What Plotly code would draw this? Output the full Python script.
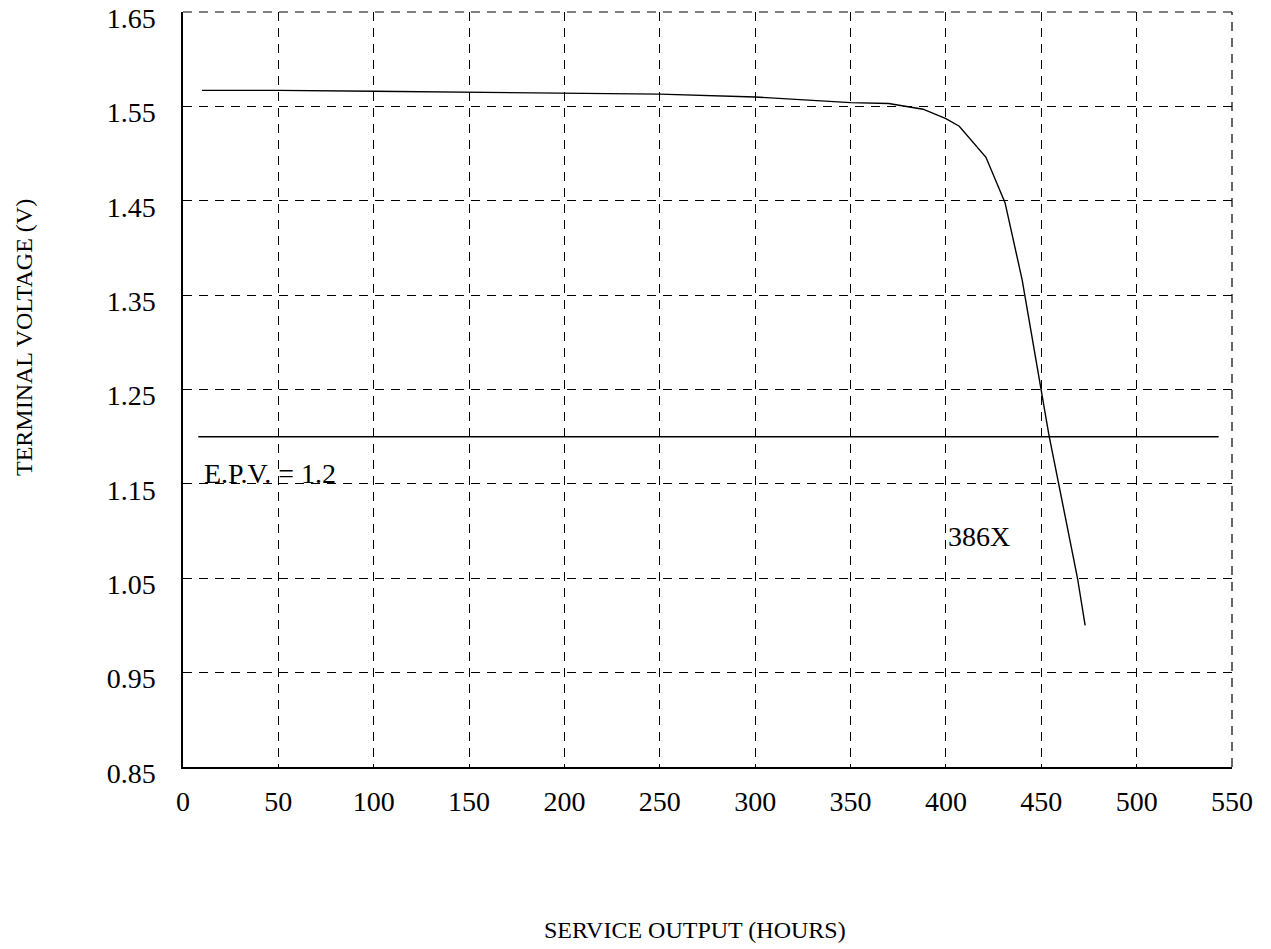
import plotly.graph_objects as go

# Discharge curve (386X)
hours = [10, 50, 100, 150, 200, 250, 300, 350, 370, 388, 400, 407, 421, 431, 440, 454, 469, 473]
volts = [1.567, 1.567, 1.566, 1.565, 1.564, 1.563, 1.560, 1.554, 1.553, 1.547, 1.537, 1.529, 1.496, 1.448, 1.366, 1.202, 1.05, 1.00]

epv_hours = [8, 543]
epv_volts = [1.2, 1.2]

x_ticks = [0, 50, 100, 150, 200, 250, 300, 350, 400, 450, 500, 550]
y_ticks = [0.85, 0.95, 1.05, 1.15, 1.25, 1.35, 1.45, 1.55, 1.65]

FONT = "Liberation Serif, Times New Roman, serif"
DASH = "9px,7px"

# body margin is removed by the post script, so page pixels == figure pixels
W, H = 1271, 949
L, T = 183, 12
pw, ph = 1232 - 183, 767 - 12
R, B = W - L - pw, H - T - ph

fig = go.Figure()
fig.add_trace(go.Scatter(x=hours, y=volts, mode="lines",
                         line=dict(color="black", width=1.4), showlegend=False, hoverinfo="skip"))
fig.add_trace(go.Scatter(x=epv_hours, y=epv_volts, mode="lines",
                         line=dict(color="black", width=1.4), showlegend=False, hoverinfo="skip"))

fig.add_annotation(x=10, y=1.161, xref="x", yref="y", text="E.P.V. = 1.2", showarrow=False,
                   xanchor="left", yanchor="middle", font=dict(family=FONT, size=28, color="black"))
fig.add_annotation(x=400, y=1.094, xref="x", yref="y", text="386X", showarrow=False,
                   xanchor="left", yanchor="middle", font=dict(family=FONT, size=28, color="black"))

# axis titles, positioned by page pixels (converted to paper coordinates)
def px_to_paper(xp, yp):
    return (xp - L) / pw, (T + ph - yp) / ph

xt = px_to_paper(695, 930)
yt = px_to_paper(24, 338)
fig.add_annotation(x=xt[0], y=xt[1], xref="paper", yref="paper", text="SERVICE OUTPUT (HOURS)",
                   showarrow=False, xanchor="center", yanchor="middle",
                   font=dict(family=FONT, size=24, color="black"))
fig.add_annotation(x=yt[0], y=yt[1], xref="paper", yref="paper", text="TERMINAL VOLTAGE (V)",
                   showarrow=False, textangle=-90, xanchor="center", yanchor="middle",
                   font=dict(family=FONT, size=24, color="black"))

grid = dict(showgrid=True, gridcolor="black", gridwidth=1.2, griddash=DASH)

fig.update_xaxes(range=[0, 550], tickvals=x_ticks, ticktext=[str(v) for v in x_ticks],
                 showline=True, linecolor="black", linewidth=1.5, ticks="", zeroline=False,
                 automargin=False, ticklabeloverflow="allow",
                 tickfont=dict(family=FONT, size=28, color="black"), ticklabelstandoff=9, **grid)
fig.update_yaxes(range=[0.85, 1.65], tickvals=y_ticks, ticktext=[f"{v:.2f}" for v in y_ticks],
                 showline=True, linecolor="black", linewidth=1.5, ticks="", zeroline=False,
                 automargin=False, ticklabeloverflow="allow", ticklabelshift=6,
                 tickfont=dict(family=FONT, size=28, color="black"), ticklabelstandoff=20, **grid)

# dashed frame on top and right edges (grid lines at the range ends)
fig.add_shape(type="line", xref="paper", yref="paper", x0=0, x1=1, y0=1, y1=1,
              line=dict(color="black", width=1.2, dash=DASH))
fig.add_shape(type="line", xref="paper", yref="paper", x0=1, x1=1, y0=0, y1=1,
              line=dict(color="black", width=1.2, dash=DASH))

fig.update_layout(width=W, height=H, plot_bgcolor="white", paper_bgcolor="white",
                  margin=dict(l=L, r=R, t=T, b=B, pad=0), showlegend=False)

fig.write_html("out.html", config={"displayModeBar": False},
               post_script="document.body.style.margin='0';document.body.style.overflow='hidden';")
